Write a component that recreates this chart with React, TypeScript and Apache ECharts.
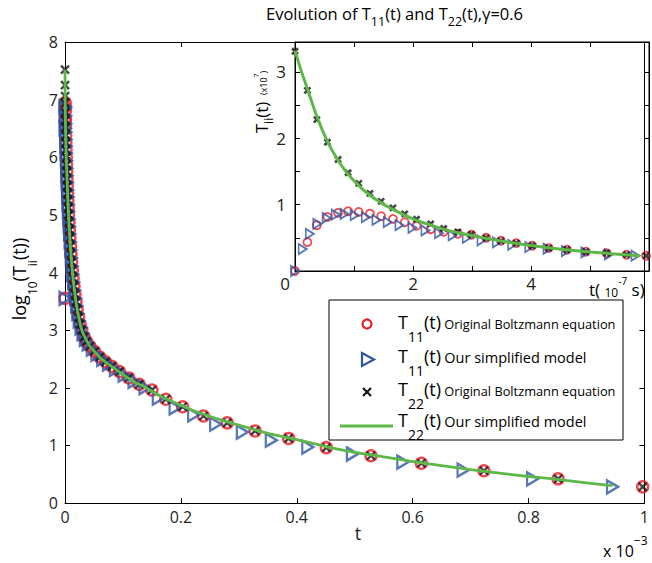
import { useEffect, useRef } from 'react';
import * as echarts from 'echarts';

// ---------- main plot (t in units of 1e-3, values are log10 T) ----------
const mainBoltzT = [0, 0.0001, 0.0002, 0.0003, 0.0005, 0.0007, 0.0009, 0.0012, 0.0015, 0.0018, 0.0022, 0.0026, 0.003, 0.0035, 0.004, 0.0045, 0.005, 0.0056, 0.0062, 0.0069, 0.0076, 0.0084, 0.0093, 0.0103, 0.0114, 0.0126, 0.014, 0.0155, 0.0172, 0.019, 0.021, 0.0235, 0.026, 0.029, 0.033, 0.037, 0.043, 0.051, 0.06, 0.07, 0.081, 0.094, 0.11, 0.128, 0.150, 0.174, 0.203, 0.239, 0.280, 0.328, 0.386, 0.451, 0.528, 0.615, 0.723, 0.851, 0.997];
const mainT22Boltz = [7.52, 7.25, 7.06, 6.94, 6.78, 6.64, 6.52, 6.38, 6.25, 6.13, 6.0, 5.87, 5.75, 5.62, 5.5, 5.37, 5.25, 5.12, 5.0, 4.87, 4.74, 4.6, 4.46, 4.32, 4.18, 4.04, 3.9, 3.76, 3.62, 3.49, 3.36, 3.22, 3.1, 3.0, 2.88, 2.8, 2.72, 2.63, 2.53, 2.45, 2.37, 2.28, 2.17, 2.06, 1.96, 1.80, 1.67, 1.51, 1.39, 1.25, 1.12, 0.96, 0.82, 0.69, 0.56, 0.42, 0.28];
const mainT11Boltz = [3.55, 6.62, 6.87, 6.95, 6.8, 6.66, 6.53, 6.38, 6.25, 6.13, 6.0, 5.87, 5.75, 5.62, 5.5, 5.37, 5.25, 5.12, 5.0, 4.87, 4.74, 4.6, 4.46, 4.32, 4.18, 4.04, 3.9, 3.76, 3.62, 3.49, 3.36, 3.22, 3.1, 3.0, 2.88, 2.8, 2.72, 2.63, 2.53, 2.45, 2.37, 2.28, 2.17, 2.06, 1.96, 1.80, 1.67, 1.51, 1.39, 1.25, 1.12, 0.96, 0.82, 0.69, 0.56, 0.42, 0.28];
const mainModelT = [0, 0.00005, 0.00015, 0.0004, 0.0006, 0.0008, 0.0011, 0.0014, 0.0017, 0.002, 0.0024, 0.0028, 0.0033, 0.0038, 0.0043, 0.0048, 0.0053, 0.0059, 0.0066, 0.0073, 0.008, 0.0089, 0.0098, 0.0108, 0.012, 0.0133, 0.0147, 0.0163, 0.018, 0.02, 0.022, 0.0245, 0.0275, 0.031, 0.035, 0.04, 0.047, 0.055, 0.065, 0.075, 0.087, 0.102, 0.119, 0.138, 0.161, 0.19, 0.222, 0.26, 0.306, 0.356, 0.419, 0.496, 0.583, 0.687, 0.807, 0.945];
const mainT11Model = [3.55, 6.5, 6.85, 6.88, 6.72, 6.58, 6.44, 6.31, 6.19, 6.07, 5.94, 5.81, 5.68, 5.56, 5.43, 5.31, 5.18, 5.06, 4.93, 4.8, 4.67, 4.53, 4.39, 4.25, 4.11, 3.97, 3.83, 3.69, 3.55, 3.42, 3.29, 3.16, 3.04, 2.94, 2.84, 2.76, 2.67, 2.58, 2.49, 2.41, 2.32, 2.22, 2.11, 2.0, 1.82, 1.65, 1.53, 1.37, 1.23, 1.09, 0.97, 0.85, 0.71, 0.57, 0.42, 0.28];
const mainLineT = [0, 0.0002, 0.0005, 0.001, 0.002, 0.003, 0.004, 0.005, 0.0065, 0.008, 0.01, 0.012, 0.015, 0.018, 0.021, 0.025, 0.029, 0.035, 0.043, 0.051, 0.06, 0.072, 0.085, 0.1, 0.12, 0.14, 0.16, 0.19, 0.22, 0.26, 0.3, 0.35, 0.4, 0.45, 0.5, 0.55, 0.6, 0.65, 0.7, 0.75, 0.8, 0.85, 0.9, 0.945];
const mainT22Model = [7.52, 7.1, 6.8, 6.45, 6.05, 5.75, 5.5, 5.25, 4.93, 4.65, 4.36, 4.1, 3.8, 3.56, 3.36, 3.16, 3.0, 2.86, 2.72, 2.63, 2.53, 2.43, 2.34, 2.23, 2.1, 2.0, 1.88, 1.74, 1.61, 1.47, 1.35, 1.21, 1.1, 0.98, 0.88, 0.8, 0.72, 0.65, 0.58, 0.52, 0.46, 0.41, 0.35, 0.3];

// ---------- inset (t in 1e-7 s, T in 1e7) ----------
const insetBoltzT = [0, 0.21, 0.37, 0.55, 0.73, 0.90, 1.08, 1.27, 1.46, 1.66, 1.86, 2.06, 2.30, 2.52, 2.76, 2.99, 3.24, 3.49, 3.75, 4.02, 4.30, 4.61, 4.93, 5.28, 5.62, 5.95];
const insetT22Boltz = [3.31, 2.72, 2.28, 1.94, 1.68, 1.48, 1.32, 1.17, 1.05, 0.95, 0.86, 0.78, 0.71, 0.64, 0.59, 0.55, 0.50, 0.455, 0.42, 0.38, 0.345, 0.32, 0.29, 0.27, 0.245, 0.23];
const insetT11Boltz = [0, 0.435, 0.69, 0.815, 0.875, 0.90, 0.89, 0.865, 0.825, 0.785, 0.735, 0.68, 0.63, 0.59, 0.56, 0.545, 0.50, 0.455, 0.42, 0.38, 0.345, 0.32, 0.29, 0.27, 0.245, 0.23];
const insetModelT = [0, 0.13, 0.25, 0.377, 0.535, 0.69, 0.84, 1.01, 1.20, 1.38, 1.57, 1.77, 1.99, 2.21, 2.44, 2.67, 2.91, 3.16, 3.42, 3.68, 3.97, 4.28, 4.59, 4.92, 5.32, 5.77];
const insetT11Model = [0, 0.33, 0.56, 0.71, 0.80, 0.85, 0.86, 0.84, 0.81, 0.77, 0.735, 0.69, 0.65, 0.61, 0.57, 0.535, 0.50, 0.46, 0.43, 0.395, 0.36, 0.335, 0.30, 0.28, 0.25, 0.23];
const insetLineT = [0, 0.1, 0.2, 0.37, 0.535, 0.7, 0.87, 1.0, 1.2, 1.435, 1.7, 2.0, 2.3, 2.56, 2.85, 3.12, 3.4, 3.68, 3.95, 4.25, 4.55, 4.81, 5.1, 5.37, 5.6, 5.85];
const insetT22Model = [3.32, 3.03, 2.77, 2.33, 1.98, 1.71, 1.49, 1.36, 1.19, 1.04, 0.91, 0.785, 0.69, 0.62, 0.56, 0.51, 0.465, 0.425, 0.39, 0.355, 0.325, 0.30, 0.28, 0.26, 0.245, 0.23];

const legendLabels = ['Original Boltzmann equation', 'Our simplified model', 'Original Boltzmann equation', 'Our simplified model'];

const RED = '#ec1c24';
const BLUE = '#2e55a5';
const GREEN = '#5cb947';
const BLACK = '#151515';
const TXT = '#231f20';
const FONT = '"Open Sans", "Noto Sans", sans-serif';

const pts = (xs: number[], ys: number[]) => xs.map((x, i) => [x, ys[i]]);
const TRI = 'path://M0,0L10,5L0,10Z';
const CROSS = 'path://M0,0L10,10M10,0L0,10';

function axis(extra: any) {
  return {
    type: 'value',
    axisLine: { show: true, onZero: false, lineStyle: { color: '#000', width: 1 } },
    axisTick: { show: true, inside: true, length: 5, lineStyle: { color: '#000', width: 1 } },
    splitLine: { show: false },
    ...extra,
  };
}

export default function App() {
  const ref = useRef<HTMLDivElement>(null);
  useEffect(() => {
    if (!ref.current) return;
    const chart = echarts.init(ref.current, undefined, { renderer: 'svg' });
    const labelMain = { color: TXT, fontFamily: FONT, fontSize: 16 };
    const labelInset = { color: TXT, fontFamily: FONT, fontSize: 17 };

    const scat = (name: string, xi: number, data: number[][], kind: string, small: boolean, z: number) => {
      const base: any = {
        name, type: 'scatter', xAxisIndex: xi, yAxisIndex: xi, data, silent: true, z,
      };
      if (kind === 'circle') {
        base.symbol = 'circle';
        base.symbolSize = small ? 8 : 11;
        base.itemStyle = { color: 'rgba(0,0,0,0)', borderColor: RED, borderWidth: small ? 1.8 : 2.5 };
      } else if (kind === 'tri') {
        base.symbol = TRI;
        base.symbolSize = small ? [8, 10] : [11, 13];
        base.itemStyle = { color: 'rgba(0,0,0,0)', borderColor: BLUE, borderWidth: small ? 1.8 : 2.4 };
      } else {
        base.symbol = CROSS;
        base.symbolSize = small ? 6 : 8;
        base.itemStyle = { color: 'rgba(0,0,0,0)', borderColor: BLACK, borderWidth: small ? 2.6 : 2.4 };
      }
      return base;
    };

    const richN = (size: number, lh: number, va: string, pad?: number[]) => ({
      fontSize: size, lineHeight: lh, verticalAlign: va, fontFamily: FONT, color: TXT, ...(pad ? { padding: pad } : {}),
    });

    const legendY = [313, 347, 380, 411];
    const legendRich = {
      n: richN(18, 20, 'top'),
      s: { fontSize: 14, lineHeight: 46, verticalAlign: 'middle', fontFamily: FONT, color: TXT },
      o: richN(12.8, 14, 'top', [4, 0, 0, 0]),
      m: richN(14.5, 16, 'top', [2.5, 0, 0, 0]),
    };
    const legendTexts = [
      `{n|T}{s|11}{n|(t)} {o|${legendLabels[0]}}`,
      `{n|T}{s|11}{n|(t)} {m|${legendLabels[1]}}`,
      `{n|T}{s|22}{n|(t)} {o|${legendLabels[2]}}`,
      `{n|T}{s|22}{n|(t)} {m|${legendLabels[3]}}`,
    ];

    const option: any = {
      animation: false,
      backgroundColor: '#fff',
      grid: [
        { left: 65, top: 42, width: 585, height: 461, show: false },
        { left: 295, top: 42, width: 355, height: 229, show: true, backgroundColor: '#fff', borderColor: '#000', borderWidth: 1 },
      ],
      xAxis: [
        axis({ gridIndex: 0, position: 'bottom', min: 0, max: 1, interval: 0.2,
          axisLabel: { ...labelMain, margin: 6, showMinLabel: true, showMaxLabel: true,
            formatter: (v: number) => String(Number(v.toFixed(1))) } }),
        axis({ gridIndex: 0, position: 'top', min: 0, max: 1, interval: 0.2,
          axisTick: { show: true, inside: true, length: 5, customValues: [0.2], lineStyle: { color: '#000' } },
          axisLabel: { show: false } }),
        axis({ gridIndex: 1, position: 'bottom', min: 0, max: 6, interval: 1,
          axisLabel: { ...labelInset, margin: 4, formatter: (v: number) => (v === 2 || v === 4 ? String(v) : '') } }),
        axis({ gridIndex: 1, position: 'top', min: 0, max: 6, interval: 1, axisLabel: { show: false } }),
      ],
      yAxis: [
        axis({ gridIndex: 0, position: 'left', min: 0, max: 8, interval: 1,
          axisLabel: { ...labelMain, margin: 7, showMinLabel: true, showMaxLabel: true } }),
        axis({ gridIndex: 0, position: 'right', min: 0, max: 8, interval: 1,
          axisTick: { show: true, inside: true, length: 5, customValues: [1, 2, 3], lineStyle: { color: '#000' } },
          axisLabel: { show: false } }),
        axis({ gridIndex: 1, position: 'left', min: 0, max: 3.45, interval: 0.5,
          axisLabel: { ...labelInset, margin: 9, formatter: (v: number) => (v === 1 || v === 2 || v === 3 ? String(v) : '') } }),
        axis({ gridIndex: 1, position: 'right', min: 0, max: 3.45, interval: 0.5, axisLabel: { show: false } }),
      ],
      series: [
        scat('T11 Original Boltzmann equation', 0, pts(mainBoltzT, mainT11Boltz), 'circle', false, 2),
        scat('T11 Our simplified model', 0, pts(mainModelT, mainT11Model), 'tri', false, 3),
        scat('T22 Original Boltzmann equation', 0, pts(mainBoltzT, mainT22Boltz), 'cross', false, 4),
        { name: 'T22 Our simplified model', type: 'line', xAxisIndex: 0, yAxisIndex: 0, data: pts(mainLineT, mainT22Model),
          showSymbol: false, symbol: 'none', smooth: 0.3, silent: true, z: 5, lineStyle: { color: GREEN, width: 2.8 } },
        scat('inset T11 Boltzmann', 2, pts(insetBoltzT, insetT11Boltz), 'circle', true, 6),
        scat('inset T11 model', 2, pts(insetModelT, insetT11Model), 'tri', true, 7),
        scat('inset T22 Boltzmann', 2, pts(insetBoltzT, insetT22Boltz), 'cross', true, 8),
        { name: 'inset T22 model', type: 'line', xAxisIndex: 2, yAxisIndex: 2, data: pts(insetLineT, insetT22Model),
          showSymbol: false, symbol: 'none', smooth: 0.3, silent: true, z: 9, lineStyle: { color: GREEN, width: 3 } },
      ],
      graphic: [
        // title
        { type: 'text', z: 50, x: 266, y: 5, style: {
          text: '{n|Evolution of T}{s|11}{n|(t) and T}{s|22}{n|(t),γ=0.6}',
          textAlign: 'left', verticalAlign: 'top',
          rich: { n: richN(16.5, 18, 'top'), s: { fontSize: 12.5, lineHeight: 32, verticalAlign: 'middle', fontFamily: FONT, color: TXT } },
        } },
        // main y label
        { type: 'text', z: 50, x: 10, y: 279, rotation: Math.PI / 2, style: {
          text: '{n|log}{s|10}{n|(T}{s|ii}{n|(t))}', textAlign: 'center', verticalAlign: 'top',
          rich: { n: richN(18, 20, 'top'), s: { fontSize: 12, lineHeight: 44, verticalAlign: 'middle', fontFamily: FONT, color: TXT } },
        } },
        // main x label
        { type: 'text', z: 50, x: 358, y: 533, style: { text: 't', textAlign: 'center', verticalAlign: 'middle', fontSize: 18, fontFamily: FONT, fill: TXT } },
        { type: 'text', z: 50, x: 603, y: 521, style: {
          text: '{n|x 10}{p|−3}', textAlign: 'left', verticalAlign: 'top',
          rich: { n: richN(16, 20, 'bottom'), p: { fontSize: 12, lineHeight: 38, verticalAlign: 'middle', fontFamily: FONT, color: TXT } },
        } },
        // inset labels
        { type: 'text', z: 50, x: 285, y: 283, style: { text: '0', textAlign: 'center', verticalAlign: 'middle', fontSize: 17, fontFamily: FONT, fill: TXT } },
        { type: 'text', z: 50, x: 589, y: 263, style: {
          text: '{n|t( }{d|10}{p|-7}{n| s)}', textAlign: 'left', verticalAlign: 'top',
          rich: { n: richN(17, 20, 'bottom'), d: richN(12, 20, 'bottom'), p: { fontSize: 10, lineHeight: 35, verticalAlign: 'middle', fontFamily: FONT, color: TXT } },
        } },
        { type: 'text', z: 50, x: 253, y: 102, rotation: Math.PI / 2, style: {
          text: '{n|T}{s|ii}{n|(t)}  {m|(x10}{p|7}{m|)}', textAlign: 'center', verticalAlign: 'top',
          rich: {
            n: richN(17, 18, 'top'),
            s: { fontSize: 12, lineHeight: 30, verticalAlign: 'middle', fontFamily: FONT, color: TXT },
            m: richN(9, 10, 'top', [6, 0, 0, 0]),
            p: { fontSize: 7, lineHeight: 8, verticalAlign: 'top', fontFamily: FONT, color: TXT },
          },
        } },
        // legend
        { type: 'rect', z: 40, shape: { x: 329, y: 300, width: 294, height: 140 }, style: { fill: '#fff', stroke: '#000', lineWidth: 1 } },
        { type: 'circle', z: 50, shape: { cx: 367, cy: 324, r: 4.5 }, style: { fill: 'none', stroke: RED, lineWidth: 2.2 } },
        { type: 'polygon', z: 50, shape: { points: [[362, 353], [374, 359.5], [362, 366]] }, style: { fill: 'none', stroke: BLUE, lineWidth: 2.2 } },
        { type: 'line', z: 50, shape: { x1: 363, y1: 388, x2: 371, y2: 396 }, style: { stroke: BLACK, lineWidth: 2.2 } },
        { type: 'line', z: 50, shape: { x1: 371, y1: 388, x2: 363, y2: 396 }, style: { stroke: BLACK, lineWidth: 2.2 } },
        { type: 'line', z: 50, shape: { x1: 340, y1: 426, x2: 393, y2: 426 }, style: { stroke: GREEN, lineWidth: 3 } },
        ...legendTexts.map((t, i) => ({
          type: 'text', z: 50, x: 398, y: legendY[i], style: { text: t, textAlign: 'left', verticalAlign: 'top', rich: legendRich },
        })),
      ],
    };
    chart.setOption(option);
    return () => chart.dispose();
  }, []);
  return <div ref={ref} style={{ position: 'fixed', left: 0, top: 0, width: 652, height: 563, background: '#fff' }} />;
}
